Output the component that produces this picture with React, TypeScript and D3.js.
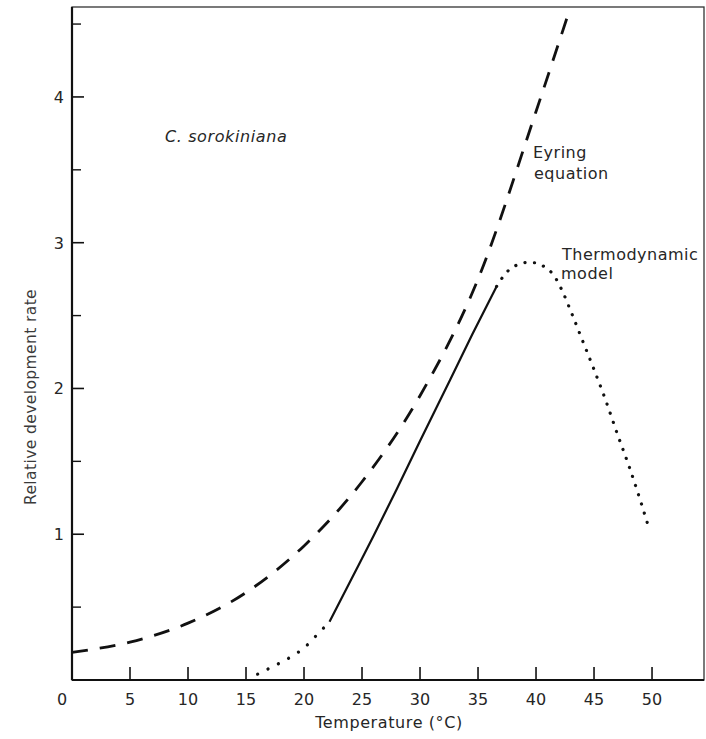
import React from "react";
import * as d3 from "d3";

// Eyring equation prediction (relative development rate vs temperature)
const eyringTemps = [0, 5, 10, 15, 20, 25, 30, 35, 40, 42.7];
const eyringRates = [0.19, 0.26, 0.39, 0.6, 0.92, 1.36, 1.95, 2.75, 3.9, 4.55];

// Thermodynamic model prediction
const thermoTemps = [
  16, 17, 18, 19, 20, 21, 22.2, 24.2, 26, 28, 30, 32.6, 34.5, 36.6, 37.5, 38.3,
  39.3, 40.1, 40.8, 41.5, 42.2, 43, 44, 45, 46, 47, 48, 49, 49.7,
];
const thermoRates = [
  0.04, 0.08, 0.12, 0.165, 0.22, 0.3, 0.4, 0.71, 0.99, 1.31, 1.64, 2.06, 2.37,
  2.7, 2.8, 2.845, 2.865, 2.86, 2.83, 2.78, 2.68, 2.53, 2.33, 2.13, 1.92, 1.69,
  1.47, 1.23, 1.05,
];
// temperature range over which the thermodynamic curve is drawn solid
const solidFrom = 22.2;
const solidTo = 36.6;

const xTicks = [0, 5, 10, 15, 20, 25, 30, 35, 40, 45, 50];
const yMajorTicks = [1, 2, 3, 4];
const yMinorTicks = [0.5, 1.5, 2.5, 3.5, 4.5];

const W = 706;
const H = 739;
const left = 72;
const right = 704;
const top = 7;
const bottom = 680;

const FONT = "'DejaVu Sans', Verdana, sans-serif";

export default function App() {
  const x = d3.scaleLinear().domain([0, 54.48]).range([left, right]);
  const y = d3.scaleLinear().domain([0, 4.617]).range([bottom, top]);

  const line = d3
    .line<[number, number]>()
    .x((d) => x(d[0]))
    .y((d) => y(d[1]))
    .curve(d3.curveMonotoneX);

  const eyring: [number, number][] = eyringTemps.map((t, i) => [t, eyringRates[i]]);
  const thermo: [number, number][] = thermoTemps.map((t, i) => [t, thermoRates[i]]);
  const thermoLow = thermo.filter((d) => d[0] <= solidFrom);
  const thermoMid = thermo.filter((d) => d[0] >= solidFrom && d[0] <= solidTo);
  const thermoHigh = thermo.filter((d) => d[0] >= solidTo);

  const ink = "#111";
  const textInk = "#262626";

  return (
    <svg
      width={W}
      height={H}
      style={{ position: "absolute", left: 0, top: 0, background: "#fff" }}
    >
      {/* frame */}
      <rect x={left} y={top} width={right - left} height={bottom - top} fill="none" stroke="#333" strokeWidth={1.3} />
      <line x1={left} x2={left} y1={top} y2={bottom} stroke={ink} strokeWidth={2.2} />
      <line x1={left} x2={right} y1={bottom} y2={bottom} stroke={ink} strokeWidth={2.2} />

      {/* x ticks */}
      {xTicks.slice(1).map((t) => (
        <line key={"xt" + t} x1={x(t)} x2={x(t)} y1={bottom} y2={bottom - 13} stroke={ink} strokeWidth={1.6} />
      ))}
      {xTicks.map((t) => (
        <text
          key={"xl" + t}
          x={t === 0 ? left - 10 : x(t)}
          y={705}
          textAnchor="middle"
          fontFamily={FONT}
          fontSize={16}
          fill={textInk}
        >
          {t}
        </text>
      ))}

      {/* y ticks */}
      {yMajorTicks.map((v) => (
        <line key={"ym" + v} x1={left} x2={left + 12} y1={y(v)} y2={y(v)} stroke={ink} strokeWidth={1.6} />
      ))}
      {yMinorTicks.map((v) => (
        <line key={"yn" + v} x1={left} x2={left + 9} y1={y(v)} y2={y(v)} stroke={ink} strokeWidth={1.4} />
      ))}
      {yMajorTicks.map((v) => (
        <text
          key={"yl" + v}
          x={64}
          y={y(v) + 6}
          textAnchor="end"
          fontFamily={FONT}
          fontSize={16}
          fill={textInk}
        >
          {v}
        </text>
      ))}

      {/* axis titles */}
      <text x={389} y={728} textAnchor="middle" fontFamily={FONT} fontSize={16} letterSpacing={0.6} fill={textInk}>
        Temperature (°C)
      </text>
      <text
        transform={`translate(36,${397}) rotate(-90)`}
        textAnchor="middle"
        fontFamily={FONT}
        fontSize={15.5}
        letterSpacing={0.4}
        fill="#3a3a3a"
      >
        Relative development rate
      </text>

      {/* curves */}
      <path d={line(eyring) ?? ""} fill="none" stroke={ink} strokeWidth={2.8} strokeDasharray="16 12" />
      <path d={line(thermoLow) ?? ""} fill="none" stroke={ink} strokeWidth={3.2} strokeLinecap="round" strokeDasharray="0.1 11.5" />
      <path d={line(thermoMid) ?? ""} fill="none" stroke={ink} strokeWidth={2.2} />
      <path d={line(thermoHigh) ?? ""} fill="none" stroke={ink} strokeWidth={3.2} strokeLinecap="round" strokeDasharray="0.1 9.5" />

      {/* annotations */}
      <text x={165} y={142} fontFamily={FONT} fontStyle="italic" fontSize={16} letterSpacing={0.6} fill={textInk}>
        C. sorokiniana
      </text>
      <text x={533} y={158} fontFamily={FONT} fontSize={16} letterSpacing={0.5} fill={textInk}>
        Eyring
      </text>
      <text x={534} y={179} fontFamily={FONT} fontSize={16} letterSpacing={0.5} fill={textInk}>
        equation
      </text>
      <text x={562} y={260} fontFamily={FONT} fontSize={16} letterSpacing={0.5} fill={textInk}>
        Thermodynamic
      </text>
      <text x={561} y={279} fontFamily={FONT} fontSize={16} letterSpacing={0.5} fill={textInk}>
        model
      </text>
    </svg>
  );
}
